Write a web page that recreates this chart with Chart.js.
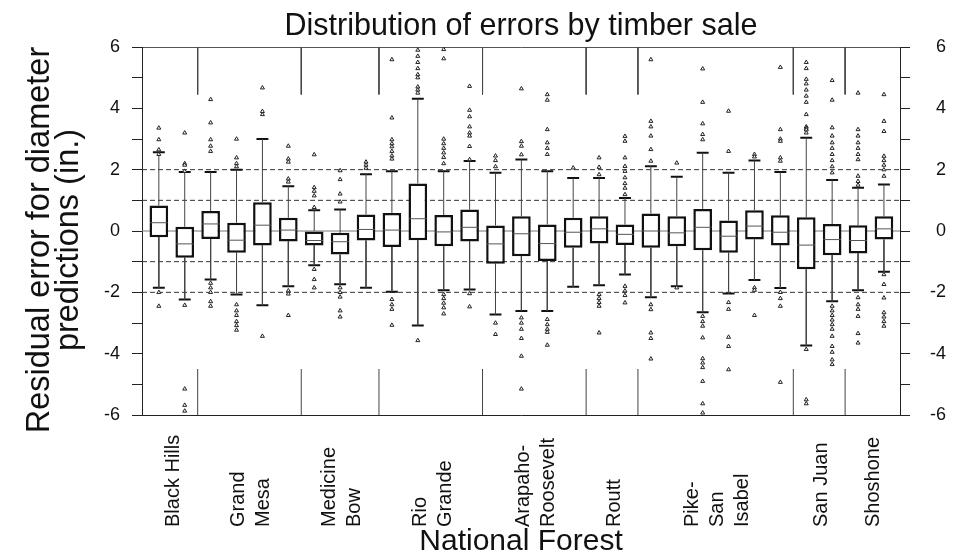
<!DOCTYPE html>
<html>
<head>
<meta charset="utf-8">
<script src="https://cdn.jsdelivr.net/npm/chart.js@4.4.0/dist/chart.umd.min.js"></script>
<style>
html, body { margin: 0; padding: 0; background: #fff; }
#wrap { width: 961px; height: 552px; }
</style>
</head>
<body>
<div id="wrap"><canvas id="chart"></canvas></div>
<script>
// one entry per national forest, split into lines the way the axis shows them
const forests = [['Black Hills'], ['Grand', 'Mesa'], ['Medicine', 'Bow'], ['Rio', 'Grande'],
  ['Arapaho-', 'Roosevelt'], ['Routt'], ['Pike-', 'San', 'Isabel'], ['San Juan'], ['Shoshone']];
const salesPerForest = [2, 4, 3, 4, 4, 2, 6, 2, 2];

// one entry per timber sale (29 boxes)
const whiskerLow = [-1.85, -2.23, -1.58, -2.07, -2.42, -1.8, -1.12, -1.74, -1.85, -1.98, -3.08, -1.93, -1.91,
  -2.72, -2.61, -2.61, -1.82, -1.77, -1.42, -2.16, -1.8, -2.65, -2.04, -1.6, -1.86, -3.73, -2.29, -1.93, -1.33];
const q1 = [-0.2, -0.87, -0.26, -0.71, -0.47, -0.34, -0.47, -0.77, -0.31, -0.52, -0.3, -0.5, -0.34,
  -1.07, -0.82, -0.98, -0.55, -0.41, -0.46, -0.55, -0.5, -0.63, -0.71, -0.28, -0.47, -1.25, -0.79, -0.73, -0.28];
const median = [0.27, -0.42, 0.23, -0.3, 0.19, 0.03, -0.31, -0.35, 0.05, 0.03, 0.4, -0.03, 0.12,
  -0.42, -0.09, -0.41, -0.04, 0.07, -0.11, 0.0, -0.06, 0.12, -0.17, 0.16, -0.04, -0.46, -0.28, -0.31, 0.07];
const q3 = [0.83, 0.14, 0.65, 0.27, 0.94, 0.43, 0.0, -0.06, 0.54, 0.59, 1.55, 0.52, 0.7,
  0.18, 0.48, 0.21, 0.43, 0.48, 0.21, 0.57, 0.48, 0.72, 0.34, 0.68, 0.51, 0.45, 0.23, 0.19, 0.48];
const whiskerHigh = [2.57, 1.92, 1.92, 2.0, 3.0, 1.46, 0.68, 0.7, 1.85, 1.95, 4.31, 1.95, 2.28,
  1.9, 2.33, 1.95, 1.73, 1.73, 1.08, 2.11, 1.77, 2.55, 1.9, 2.3, 1.92, 3.04, 1.66, 1.41, 1.52];
const outliers = [
  [3.36, 2.98, 2.65, 2.5, -2.0, -2.45],
  [3.2, 2.2, 2.15, 1.95, -2.42, -5.15, -5.68, -5.87],
  [4.29, 3.53, 2.98, 2.77, 2.6, -1.7, -1.85, -2.0, -2.3, -2.45],
  [3.0, 2.39, 2.2, 2.1, -2.4, -2.6, -2.75, -2.95, -3.08, -3.23],
  [4.67, 3.9, 3.8, -3.43],
  [2.77, 2.35, 2.25, 1.7, 1.6, -1.95, -2.05, -2.75],
  [2.49, 1.42, 1.3, 1.15, 0.77, -1.25, -1.58, -1.85],
  [1.97, 1.68, 1.21, 0.95, -1.85, -2.0, -2.15, -2.6, -2.8],
  [2.25, 2.15, 2.05],
  [5.59, 3.69, 2.98, 2.85, 2.75, 2.6, 2.45, 2.35, -2.23, -2.4, -2.55, -3.07],
  [5.9, 5.7, 5.5, 5.3, 5.1, 5.0, 4.7, 4.6, 4.5, -3.57],
  [5.92, 5.62, 3.0, 2.85, 2.7, 2.55, 2.4, 2.2, -2.07, -2.2, -2.35, -2.5, -2.7],
  [4.72, 3.94, 3.73, 3.4, 3.2, 3.1, 2.76, 2.33, -2.04, -2.47],
  [2.45, 2.3, 2.1, -3.0, -3.37],
  [4.64, 2.92, 2.77, 2.49, -2.83, -3.0, -3.2, -3.5, -4.08, -5.15],
  [4.45, 4.27, 3.31, 2.88, 2.7, 2.5, -2.88, -3.05, -3.2, -3.3, -3.72],
  [2.06],
  [2.39, 2.08, 1.84, -2.07, -2.2, -2.33, -2.45, -3.32],
  [3.09, 2.93, 2.39, 2.11, 1.95, 1.74, 1.55, 1.4, 1.19, -1.8, -1.95, -2.1, -2.34],
  [5.59, 3.58, 3.4, 3.1, 2.66, 2.28, -2.4, -2.56, -3.32, -3.5, -4.17],
  [2.22, -1.85],
  [5.29, 4.2, 3.5, 3.15, 2.98, -2.78, -2.95, -3.1, -3.48, -4.16, -4.3, -4.45, -4.9, -5.63, -5.93],
  [3.91, 2.6, -2.33, -2.55, -3.46, -3.76, -4.52],
  [2.5, 2.42, -1.85, -1.93, -2.75],
  [5.34, 3.31, 3.0, 2.93, 2.39, 2.28, -2.0, -2.2, -2.45, -4.93],
  [5.5, 5.3, 4.95, 4.8, 4.6, 4.4, 4.2, 3.8, 3.4, 3.35, 3.3, 3.2, -3.86, -5.5, -5.63],
  [4.91, 4.27, 3.37, 3.1, 2.88, 2.7, 2.5, 2.3, 2.1, 1.9, -2.45, -2.6, -2.75, -2.9, -3.05, -3.2, -3.43, -3.76, -3.95, -4.2, -4.35],
  [4.5, 3.31, 3.1, 2.88, 2.7, 2.5, 2.33, 1.79, 1.62, 1.5, -2.17, -2.4, -2.55, -2.78, -3.34, -3.65],
  [4.45, 3.58, 3.25, 2.44, 2.3, 2.15, 2.0, 1.79, -1.42, -1.74, -2.18, -2.66, -2.8, -2.95, -3.1]
];
const dashedLevels = [2, 1, -1, -2];
const yTicks = [-6, -4, -2, 0, 2, 4, 6];

const xMin = -0.65, xMax = 28.62;
const FONT = 'Liberation Sans, Arial, Helvetica, sans-serif';

// helpers: turn segments into one line dataset with gaps
function segments(list) {
  const pts = [];
  list.forEach(s => { pts.push({ x: s[0], y: s[1] }, { x: s[2], y: s[3] }, { x: s[2], y: null }); });
  return pts;
}

const idx = q1.map((v, i) => i);
const whiskers = segments(idx.flatMap(i => [[i, q3[i], i, whiskerHigh[i]], [i, q1[i], i, whiskerLow[i]]]));
const caps = segments(idx.flatMap(i => [[i - 0.23, whiskerHigh[i], i + 0.23, whiskerHigh[i]],
  [i - 0.23, whiskerLow[i], i + 0.23, whiskerLow[i]]]));
const medians = segments(idx.map(i => [i - 0.34, median[i], i + 0.34, median[i]]));
const outlierPts = idx.flatMap(i => outliers[i].map(v => ({ x: i, y: v })));
const dashed = segments(dashedLevels.map(v => [xMin, v, xMax, v]));
const zeroLine = segments([[xMin, 0, xMax, 0]]);

// group boundaries -> short separators at top and bottom of the plot
const bounds = [];
let acc = 0;
salesPerForest.forEach((n, g) => { acc += n; if (g < salesPerForest.length - 1) bounds.push(acc - 0.5); });
const separators = segments(bounds.flatMap(b => [[b, 6, b, 4.45], [b, -6, b, -4.5]]));

const lineDs = (data, extra) => Object.assign({
  type: 'line', data: data, pointRadius: 0, borderColor: '#222', borderWidth: 1,
  spanGaps: false, fill: false, tension: 0
}, extra);

const forestLabels = {
  id: 'forestLabels',
  afterDraw(chart) {
    const xs = chart.scales.x;
    const ctx = chart.ctx;
    ctx.save();
    ctx.font = '20px ' + FONT;
    ctx.fillStyle = '#111';
    ctx.textAlign = 'left';
    ctx.textBaseline = 'middle';
    let start = 0;
    forests.forEach((lines, g) => {
      const center = start + (salesPerForest[g] - 1) / 2;
      start += salesPerForest[g];
      const px = xs.getPixelForValue(center) + 2;
      lines.forEach((t, k) => {
        const lx = px + (k - (lines.length - 1) / 2) * 25;
        ctx.save();
        ctx.translate(lx, 527);
        ctx.rotate(-Math.PI / 2);
        ctx.fillText(t, 0, 0);
        ctx.restore();
      });
    });
    ctx.restore();
  }
};

const yTickOpts = {
  stepSize: 1,
  font: { family: FONT, size: 18 },
  color: '#111',
  callback: v => (yTicks.includes(v) ? String(v) : '')
};

new Chart(document.getElementById('chart'), {
  type: 'bar',
  data: {
    datasets: [
      lineDs(dashed, { borderDash: [5, 3], borderColor: '#333', order: 6 }),
      lineDs(zeroLine, { borderColor: '#777', order: 6 }),
      lineDs(separators, { borderColor: '#444', order: 6 }),
      lineDs(whiskers, { borderColor: '#444', order: 5 }),
      lineDs(caps, { borderColor: '#111', borderWidth: 2, order: 5 }),
      {
        type: 'bar', data: idx.map(i => ({ x: i, y: [q1[i], q3[i]] })),
        backgroundColor: '#fff', borderColor: '#111', borderWidth: 2.5, borderSkipped: false,
        categoryPercentage: 1, barPercentage: 0.72, order: 3
      },
      lineDs(medians, { borderColor: '#555', order: 2 }),
      {
        type: 'line', data: outlierPts, showLine: false, pointStyle: 'triangle', pointRadius: 2.3,
        pointBorderWidth: 1, pointBorderColor: '#222', pointBackgroundColor: '#fff', order: 1
      }
    ]
  },
  options: {
    responsive: true,
    maintainAspectRatio: false,
    animation: false,
    events: [],
    layout: { padding: { right: 15 } },
    plugins: {
      legend: { display: false },
      tooltip: { enabled: false },
      title: { display: false }
    },
    scales: {
      x: {
        type: 'linear', min: xMin, max: xMax, offset: false,
        ticks: { display: false },
        grid: { display: false, offset: false },
        border: { display: true, color: '#222' },
        title: {
          display: true, text: 'National Forest', color: '#111',
          font: { family: FONT, size: 30, lineHeight: 0.6 }, padding: { top: 0, bottom: 1 }
        },
        afterFit: s => { s.height = 137; }
      },
      // top axis only carries the chart title, centred over the plot
      xTop: {
        type: 'linear', position: 'top', min: xMin, max: xMax, offset: false,
        ticks: { display: false },
        grid: { display: false },
        border: { display: false },
        title: {
          display: true, text: 'Distribution of errors by timber sale', color: '#111',
          font: { family: FONT, size: 30.5, lineHeight: 1.2 }, padding: { top: 8, bottom: 0 }
        },
        afterFit: s => { s.height = 47; }
      },
      y: {
        position: 'left', min: -6, max: 6,
        ticks: Object.assign({ padding: 12 }, yTickOpts),
        grid: {
          drawOnChartArea: true, tickLength: 10, tickColor: '#222',
          color: c => (c.tick && c.tick.value === 6 ? '#555' : 'rgba(0,0,0,0)')
        },
        border: { display: true, color: '#222' },
        title: {
          display: true, text: ['Residual error for diameter  ', 'predictions (in.)  '], color: '#111',
          font: { family: FONT, size: 32.5, lineHeight: 0.9 }, padding: { top: 25, bottom: 0 }
        },
        afterFit: s => { s.width = 142; }
      },
      y2: {
        position: 'right', min: -6, max: 6,
        ticks: Object.assign({ padding: 8, crossAlign: 'far' }, yTickOpts),
        grid: { drawOnChartArea: false, tickLength: 10, tickColor: '#222' },
        border: { display: true, color: '#222' },
        afterFit: s => { s.width = 46; }
      }
    }
  },
  plugins: [forestLabels]
});
</script>
</body>
</html>
